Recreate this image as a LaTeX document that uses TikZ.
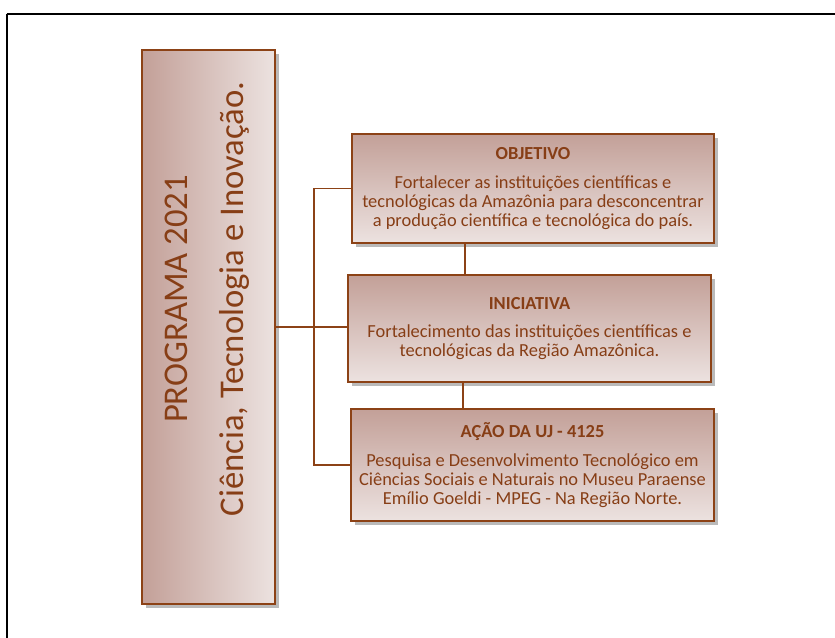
\documentclass[tikz,border=0pt]{standalone}
\usepackage{fontspec}
\setmainfont{Carlito}
\usetikzlibrary{shadows}
\definecolor{brd}{RGB}{140,66,22}
\definecolor{txt}{RGB}{135,62,22}
\definecolor{gdark}{RGB}{195,160,152}
\definecolor{glight}{RGB}{236,226,224}
\begin{document}
\begin{tikzpicture}[x=0.75pt,y=-0.75pt,
  boxbase/.style={draw=brd,line width=1.6pt,text=txt,align=center,inner sep=0pt,
    drop shadow={shadow xshift=3pt,shadow yshift=-3pt,opacity=0.45,fill=black!60}},
  sidebox/.style={boxbase,left color=gdark,right color=glight},
  infobox/.style={boxbase,top color=gdark,bottom color=glight,font=\fontsize{13.8}{14.3}\selectfont},
  link/.style={draw=brd,line width=1.3pt},
  bigtext/.style={text=txt,align=center,rotate=90,font=\fontsize{26}{42}\selectfont}
]
\useasboundingbox (0,0) rectangle (835,637);
\draw[line width=1.5pt] (6.5,13.5) -- (840,13.5);
\draw[line width=1.5pt] (6.5,13.5) -- (6.5,645);

\node[sidebox,minimum width=133*0.75pt,minimum height=554*0.75pt] (prog) at (208.5,327) {};
\node[bigtext] (progtxt) at (207,299) {PROGRAMA 2021\\Ciência, Tecnologia e Inovação.};

\node[infobox,minimum width=362*0.75pt,minimum height=109*0.75pt] (obj) at (533,188.5)
  {\textbf{OBJETIVO}\\[7pt]Fortalecer as instituições científicas e\\tecnológicas da Amazônia para desconcentrar\\a produção científica e tecnológica do país.};
\node[infobox,minimum width=363*0.75pt,minimum height=107*0.75pt] (ini) at (529.5,328.5)
  {\textbf{INICIATIVA}\\[7pt]Fortalecimento das instituições científicas e\\tecnológicas da Região Amazônica.};
\node[infobox,minimum width=363*0.75pt,minimum height=112*0.75pt] (acao) at (532.5,465)
  {\textbf{AÇÃO DA UJ - 4125}\\[7pt]Pesquisa e Desenvolvimento Tecnológico em\\Ciências Sociais e Naturais no Museu Paraense\\Emílio Goeldi - MPEG - Na Região Norte.};

\coordinate (spine) at (314,0);
\coordinate (va) at (465,0);
\coordinate (vb) at (463,0);

\draw[link] (prog.east) -- (prog.east -| ini.west);
\draw[link] (obj.west) -- (obj.west -| spine) -- (acao.west -| spine) -- (acao.west);
\draw[link] (obj.south -| va) -- (ini.north -| va);
\draw[link] (ini.south -| vb) -- (acao.north -| vb);
\end{tikzpicture}
\end{document}
